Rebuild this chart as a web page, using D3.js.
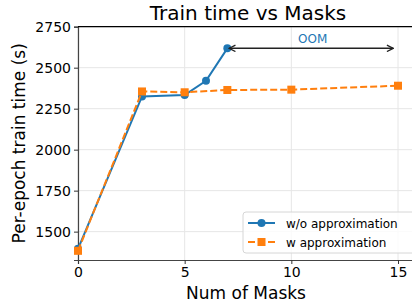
<!DOCTYPE html>
<html>
<head>
<meta charset="utf-8">
<script src="https://cdn.jsdelivr.net/npm/d3@7"></script>
<style>
body { margin: 0; background: #fff; }
text { font-family: 'DejaVu Sans', sans-serif; }
</style>
</head>
<body>
<script>
const masksWo = [0, 3, 5, 6, 7]
const timeWo = [1395, 2325, 2333, 2420, 2618]
const masksW = [0, 3, 5, 7, 10, 15]
const timeW = [1383, 2355, 2350, 2364, 2366, 2390]
const xTicks = [0, 5, 10, 15]
const yTicks = [1500, 1750, 2000, 2250, 2500, 2750]
const seriesNames = ['w/o approximation', 'w approximation']

const width = 412
const height = 304
const margin = { top: 26.7, right: -2, bottom: 44, left: 78 }

const blue = '#1f77b4'
const orange = '#ff7f0e'

const svg = d3.select('body')
	.append('svg')
	.attr('width', width)
	.attr('height', height)

const xScale = d3.scaleLinear()
	.domain([0, 15.75])
	.range([margin.left, width - margin.right])

const yScale = d3.scaleLinear()
	.domain([1327, 2750])
	.range([height - margin.bottom, margin.top])

// grid
svg.append('g')
	.selectAll('line')
	.data(xTicks)
	.enter()
	.append('line')
	.attr('x1', d => xScale(d))
	.attr('x2', d => xScale(d))
	.attr('y1', yScale.range()[0])
	.attr('y2', yScale.range()[1])
	.attr('stroke', '#e6e6e6')
	.attr('stroke-width', 1)

svg.append('g')
	.selectAll('line')
	.data(yTicks)
	.enter()
	.append('line')
	.attr('x1', xScale.range()[0])
	.attr('x2', xScale.range()[1])
	.attr('y1', d => yScale(d))
	.attr('y2', d => yScale(d))
	.attr('stroke', '#e6e6e6')
	.attr('stroke-width', 1)

// axes
const xAxis = d3.axisBottom(xScale)
	.tickValues(xTicks)
	.tickFormat(d3.format('d'))
	.tickSize(4)
	.tickPadding(3)

const yAxis = d3.axisLeft(yScale)
	.tickValues(yTicks)
	.tickFormat(d3.format('d'))
	.tickSize(4)
	.tickPadding(3)

const gx = svg.append('g')
	.attr('transform', `translate(0,${yScale.range()[0]})`)
	.call(xAxis)

const gy = svg.append('g')
	.attr('transform', `translate(${xScale.range()[0]},0)`)
	.call(yAxis)

for (const g of [gx, gy]) {
	g.select('.domain').attr('stroke', '#444').attr('stroke-width', 1.2)
	g.selectAll('.tick line').attr('stroke', '#333')
	g.selectAll('.tick text')
		.attr('font-size', 14)
		.attr('font-family', 'DejaVu Sans')
		.attr('fill', '#000')
}

// top spine
svg.append('line')
	.attr('x1', xScale.range()[0])
	.attr('x2', xScale.range()[1])
	.attr('y1', yScale.range()[1])
	.attr('y2', yScale.range()[1])
	.attr('stroke', '#000')
	.attr('stroke-width', 1.2)

// labels
svg.append('text')
	.attr('x', 248)
	.attr('y', 20)
	.attr('text-anchor', 'middle')
	.attr('font-size', 20)
	.text('Train time vs Masks')

svg.append('text')
	.attr('x', 246)
	.attr('y', 299)
	.attr('text-anchor', 'middle')
	.attr('font-size', 17)
	.text('Num of Masks')

svg.append('text')
	.attr('transform', `translate(25,${(yScale.range()[0] + yScale.range()[1]) / 2}) rotate(-90)`)
	.attr('text-anchor', 'middle')
	.attr('font-size', 17)
	.text('Per-epoch train time (s)')

// lines
const lineMaker = d3.line()
	.x(d => xScale(d[0]))
	.y(d => yScale(d[1]))

const woData = masksWo.map((m, i) => [m, timeWo[i]])
const wData = masksW.map((m, i) => [m, timeW[i]])

svg.append('path')
	.attr('d', lineMaker(woData))
	.attr('fill', 'none')
	.attr('stroke', blue)
	.attr('stroke-width', 2)

svg.append('g')
	.selectAll('circle')
	.data(woData)
	.enter()
	.append('circle')
	.attr('cx', d => xScale(d[0]))
	.attr('cy', d => yScale(d[1]))
	.attr('r', 4)
	.attr('fill', blue)

svg.append('path')
	.attr('d', lineMaker(wData))
	.attr('fill', 'none')
	.attr('stroke', orange)
	.attr('stroke-width', 2)
	.attr('stroke-dasharray', '7,3')

svg.append('g')
	.selectAll('rect')
	.data(wData)
	.enter()
	.append('rect')
	.attr('x', d => xScale(d[0]) - 4)
	.attr('y', d => yScale(d[1]) - 4)
	.attr('width', 8)
	.attr('height', 8)
	.attr('fill', orange)

// OOM annotation
const defs = svg.append('defs')
defs.append('marker')
	.attr('id', 'head')
	.attr('viewBox', '0 0 10 10')
	.attr('refX', 9)
	.attr('refY', 5)
	.attr('markerWidth', 8)
	.attr('markerHeight', 8)
	.attr('markerUnits', 'userSpaceOnUse')
	.attr('orient', 'auto-start-reverse')
	.append('path')
	.attr('d', 'M1,1 L9,5 L1,9')
	.attr('fill', 'none')
	.attr('stroke', '#222')
	.attr('stroke-width', 1.6)

svg.append('line')
	.attr('x1', xScale(7.08))
	.attr('x2', xScale(14.78))
	.attr('y1', yScale(2618))
	.attr('y2', yScale(2618))
	.attr('stroke', '#222')
	.attr('stroke-width', 1.5)
	.attr('marker-start', 'url(#head)')
	.attr('marker-end', 'url(#head)')

svg.append('text')
	.attr('x', xScale(11))
	.attr('y', yScale(2650))
	.attr('text-anchor', 'middle')
	.attr('font-size', 12)
	.attr('fill', blue)
	.text('OOM')

// legend
const legend = svg.append('g')
	.attr('transform', 'translate(243,212)')

legend.append('rect')
	.attr('width', 175)
	.attr('height', 41)
	.attr('rx', 3)
	.attr('fill', 'rgba(255,255,255,0.8)')
	.attr('stroke', '#d6d6d6')

const items = legend.selectAll('.item')
	.data(seriesNames)
	.enter()
	.append('g')
	.attr('class', 'item')
	.attr('transform', (d, i) => `translate(0,${11 + i * 19})`)

items.append('line')
	.attr('x1', 5)
	.attr('x2', 32)
	.attr('stroke', (d, i) => i === 0 ? blue : orange)
	.attr('stroke-width', 2)
	.attr('stroke-dasharray', (d, i) => i === 0 ? null : '7,3')

items.filter((d, i) => i === 0)
	.append('circle')
	.attr('cx', 18.5)
	.attr('r', 4)
	.attr('fill', blue)

items.filter((d, i) => i === 1)
	.append('rect')
	.attr('x', 14.5)
	.attr('y', -4)
	.attr('width', 8)
	.attr('height', 8)
	.attr('fill', orange)

items.append('text')
	.attr('x', 43)
	.attr('y', 4.5)
	.attr('font-size', 12)
	.text(d => d)
</script>
</body>
</html>
